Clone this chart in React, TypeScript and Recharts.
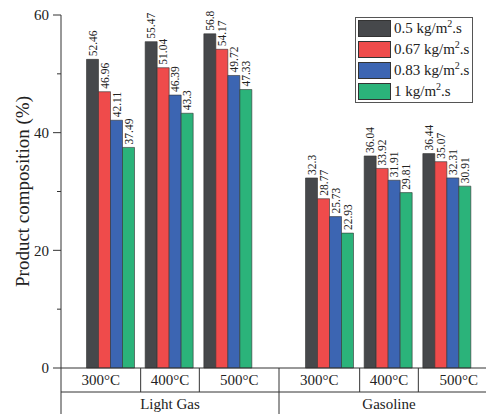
import { BarChart, Bar, XAxis, YAxis, Legend, LabelList } from "recharts";

const temperatures = ["300°C", "400°C", "500°C"];
const fluxes = ["0.5", "0.67", "0.83", "1"];

const lightGas05 = [52.46, 55.47, 56.8];
const lightGas067 = [46.96, 51.04, 54.17];
const lightGas083 = [42.11, 46.39, 49.72];
const lightGas1 = [37.49, 43.3, 47.33];

const gasoline05 = [32.3, 36.04, 36.44];
const gasoline067 = [28.77, 33.92, 35.07];
const gasoline083 = [25.73, 31.91, 32.31];
const gasoline1 = [22.93, 29.81, 30.91];

const yTicks = [0, 10, 20, 30, 40, 50, 60];

const COLORS = ["#46484b", "#ef4b4b", "#3c65b2", "#2bb37a"];
const KEYS = ["f0", "f1", "f2", "f3"];
const FONT = "'Liberation Serif', 'Times New Roman', serif";
const INK = "#222";

const CHART_H = 414;
const TOP = 15;
const X_AXIS_H = 46;
const PLOT_BOTTOM = CHART_H - X_AXIS_H;
const ROW_SPLIT = PLOT_BOTTOM + 24;
const Y_AXIS_W = 61;

const LEFT_W = 279;
const RIGHT_W = 207;

function buildRows(series: number[][]) {
  return temperatures.map((t, i) => {
    const row: Record<string, string | number> = { temp: t };
    series.forEach((s, k) => {
      row[KEYS[k]] = s[i];
    });
    return row;
  });
}

const lightGasData = buildRows([lightGas05, lightGas067, lightGas083, lightGas1]);
const gasolineData = buildRows([gasoline05, gasoline067, gasoline083, gasoline1]);

const ValueLabel = (props: any) => {
  const { x, y, width, value } = props;
  const cx = x + width / 2;
  const ty = y - 3;
  return (
    <text
      x={cx}
      y={ty}
      dy="0.35em"
      transform={`rotate(-90 ${cx} ${ty})`}
      textAnchor="start"
      fontFamily={FONT}
      fontSize={11.5}
      fill={INK}
    >
      {value}
    </text>
  );
};

const YTick = (props: any) => {
  const { y, payload } = props;
  const major = payload.value % 20 === 0;
  return (
    <g>
      <line
        x1={Y_AXIS_W - (major ? 8 : 4)}
        x2={Y_AXIS_W}
        y1={y}
        y2={y}
        stroke="#333"
      />
      {major && (
        <text
          x={Y_AXIS_W - 12}
          y={y}
          dy="0.35em"
          textAnchor="end"
          fontFamily={FONT}
          fontSize={15}
          fill={INK}
        >
          {payload.value}
        </text>
      )}
    </g>
  );
};

// the gasoline panel runs past the picture's right edge, so its last cell is wider than what's drawn
function makeXTick(group: string, plotW: number, padL: number, padR: number, overflow: number) {
  const band = (plotW - padL - padR) / temperatures.length;
  return (props: any) => {
    const { x, index, payload } = props;
    const half = band / 2;
    const left = x - half - padL - index * band;
    const right = left + plotW;
    const last = temperatures.length - 1;
    const cellL = index === 0 ? left : x - half;
    const cellR = index === last ? right + overflow : x + half;
    const cx = (cellL + cellR) / 2;
    const groupX = (left + right + overflow) / 2;
    return (
      <g>
        <text
          x={cx}
          y={PLOT_BOTTOM + 12}
          dy="0.35em"
          textAnchor="middle"
          fontFamily={FONT}
          fontSize={15}
          fill={INK}
        >
          {payload.value}
        </text>
        {index < last && (
          <line x1={x + half} x2={x + half} y1={PLOT_BOTTOM} y2={ROW_SPLIT} stroke="#333" />
        )}
        {index === 0 && (
          <>
            <line x1={left} x2={left} y1={PLOT_BOTTOM} y2={CHART_H} stroke="#333" />
            <line x1={left} x2={right} y1={ROW_SPLIT} y2={ROW_SPLIT} stroke="#333" />
          </>
        )}
        {index === last && overflow === 0 && (
          <line x1={right} x2={right} y1={PLOT_BOTTOM} y2={CHART_H} stroke="#333" />
        )}
        {index === 1 && (
          <text
            x={groupX}
            y={ROW_SPLIT + 12}
            dy="0.35em"
            textAnchor="middle"
            fontFamily={FONT}
            fontSize={15}
            fill={INK}
          >
            {group}
          </text>
        )}
      </g>
    );
  };
}

const LegendBox = (props: any) => {
  const { payload } = props;
  return (
    <div
      style={{
        width: 118,
        boxSizing: "border-box",
        border: "1px solid #555",
        background: "#fff",
        padding: "0 1px 0 2px",
        fontFamily: FONT,
        fontSize: 15,
        color: INK,
      }}
    >
      {(payload || []).map((entry: any) => (
        <div
          key={entry.value}
          style={{ display: "flex", alignItems: "center", height: 21, whiteSpace: "nowrap" }}
        >
          <span
            style={{
              display: "inline-block",
              width: 33,
              height: 17,
              boxSizing: "border-box",
              background: entry.color,
              border: "1px solid #333",
              marginRight: 3,
            }}
          />
          <span style={{ lineHeight: "21px" }}>
            {entry.value} kg/m
            <span style={{ fontSize: 10, position: "relative", top: -6 }}>2</span>.s
          </span>
        </div>
      ))}
    </div>
  );
};

function renderBars() {
  return KEYS.map((key, k) => (
    <Bar
      key={key}
      dataKey={key}
      name={fluxes[k]}
      fill={COLORS[k]}
      stroke="#333"
      strokeWidth={0.6}
      isAnimationActive={false}
    >
      <LabelList dataKey={key} content={ValueLabel} />
    </Bar>
  ));
}

const LEFT_PAD = { left: 21, right: 21 };
const RIGHT_PAD = { left: 22, right: 9 };

export default function App() {
  return (
    <div style={{ position: "absolute", left: 0, top: 0, width: 486, height: CHART_H, background: "#fff" }}>
      <div style={{ position: "absolute", left: 0, top: 0 }}>
        <BarChart
          width={LEFT_W}
          height={CHART_H}
          data={lightGasData}
          margin={{ top: TOP, right: 0, bottom: 0, left: 0 }}
          barCategoryGap={4.5}
          barGap={0}
        >
          <XAxis
            dataKey="temp"
            height={X_AXIS_H}
            padding={LEFT_PAD}
            tickLine={false}
            interval={0}
            axisLine={{ stroke: "#333" }}
            tick={makeXTick("Light Gas", LEFT_W - Y_AXIS_W, LEFT_PAD.left, LEFT_PAD.right, 0)}
          />
          <YAxis
            width={Y_AXIS_W}
            domain={[0, 60]}
            ticks={yTicks}
            interval={0}
            tickLine={false}
            axisLine={{ stroke: "#333" }}
            tick={YTick}
            label={{
              value: "Product composition (%)",
              angle: -90,
              position: "center",
              dx: -8,
              style: { fontFamily: FONT, fontSize: 19, fill: INK },
            }}
          />
          {renderBars()}
        </BarChart>
      </div>
      <div style={{ position: "absolute", left: LEFT_W, top: 0 }}>
        <BarChart
          width={RIGHT_W}
          height={CHART_H}
          data={gasolineData}
          margin={{ top: TOP, right: 0, bottom: 0, left: 0 }}
          barCategoryGap={4.5}
          barGap={0}
        >
          <XAxis
            dataKey="temp"
            height={X_AXIS_H}
            padding={RIGHT_PAD}
            tickLine={false}
            interval={0}
            axisLine={{ stroke: "#333" }}
            tick={makeXTick("Gasoline", RIGHT_W, RIGHT_PAD.left, RIGHT_PAD.right, 13)}
          />
          <YAxis hide domain={[0, 60]} />
          <Legend
            layout="vertical"
            align="center"
            verticalAlign="middle"
            content={LegendBox}
            wrapperStyle={{ left: 76, top: 17, width: 118 }}
          />
          {renderBars()}
        </BarChart>
      </div>
    </div>
  );
}
